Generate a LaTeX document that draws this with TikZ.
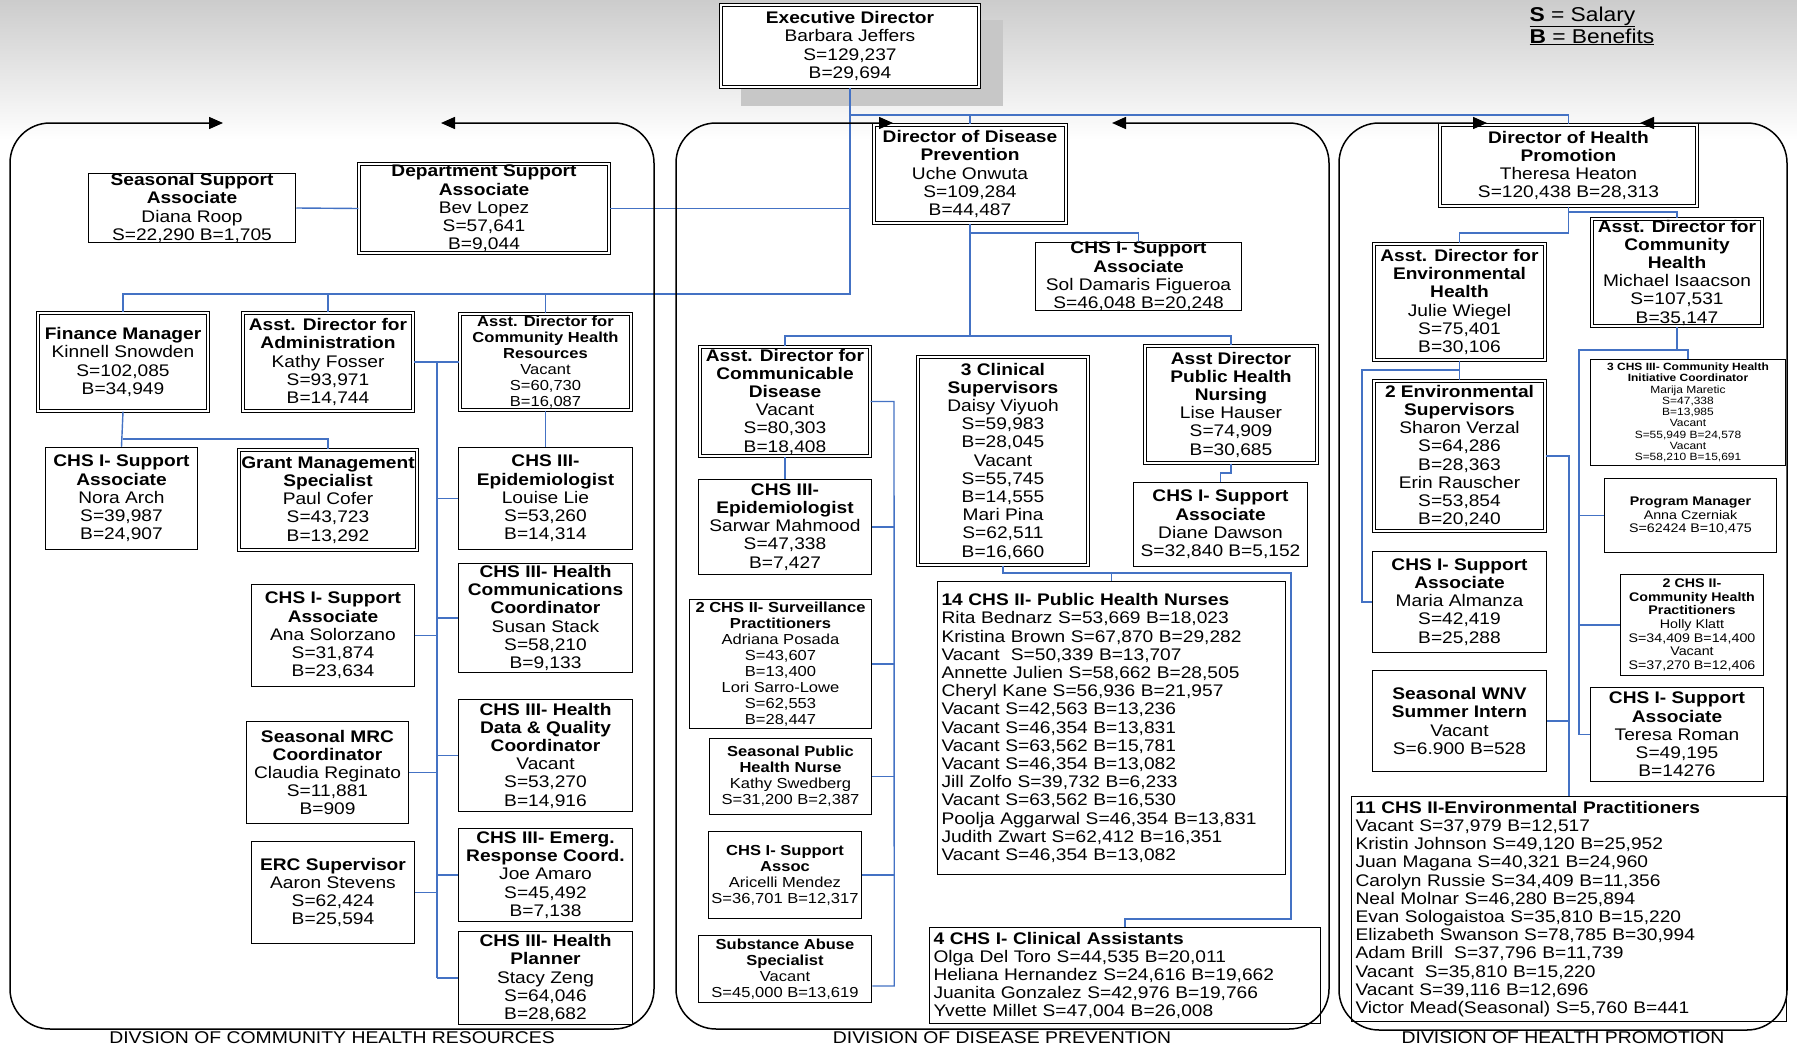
\documentclass[tikz,border=0pt]{standalone}
\usepackage{fontspec}
\setmainfont{Liberation Sans}[FakeStretch=1.14]
\usetikzlibrary{arrows.meta,calc}
\definecolor{cblue}{HTML}{4472C4}
\newcommand\fsA{\fontsize{16.8}{18.2}\selectfont}
\newcommand\fsB{\fontsize{14.5}{16}\selectfont}
\newcommand\fsC{\fontsize{12.5}{13.6}\selectfont}
\newcommand\fsD{\fontsize{10.5}{11.3}\selectfont}
\newcommand\fsE{\fontsize{17}{20}\selectfont}
\newcommand\fsL{\fontsize{20}{22}\selectfont}
\tikzset{
  wh/.style 2 args={minimum width=#1pt, minimum height=#2pt},
  sb/.style={draw, line width=1.5pt, fill=white, inner sep=0pt, align=center, font=\fsA},
  db/.style={draw, double, double distance=1.8pt, line width=1.1pt, fill=white, inner sep=0pt, align=center, font=\fsA},
  lb/.style={draw, line width=1.5pt, fill=white, inner xsep=4pt, inner ysep=0pt, align=left, font=\fsA},
  conn/.style={draw=cblue, line width=1.4pt},
  cont/.style={draw=black, line width=1.5pt, rounded corners=40pt,
    {Triangle[length=14pt,width=12pt]}-{Triangle[length=14pt,width=12pt]}},
}
\begin{document}
\begin{tikzpicture}[x=1pt,y=-1pt]
\useasboundingbox (0,0) rectangle (1797,1044);
\fill[white] (0,0) rectangle (1797,1044);
\shade[top color=black!20, bottom color=white] (0,0) rectangle (1797,140);
\fill[black!22] (741,20) rectangle (1003,106);

% ---------- boxes ----------
\node[db, wh={258}{82}] (ed) at (850,46) {\textbf{Executive Director}\\Barbara Jeffers\\S=129,237\\B=29,694};

% left division
\node[sb, wh={207}{67}] (ssa) at (192,208) {\textbf{Seasonal Support}\\\textbf{Associate}\\Diana Roop\\S=22,290 B=1,705};
\node[db, wh={250}{89}] (dsa) at (484,208.5) {\textbf{Department Support}\\\textbf{Associate}\\Bev Lopez\\S=57,641\\B=9,044};
\node[db, wh={170}{98}] (fm) at (123,362) {\textbf{Finance Manager}\\Kinnell Snowden\\S=102,085\\B=34,949};
\node[db, wh={170}{98}] (ada) at (328,362) {\textbf{Asst. Director for}\\\textbf{Administration}\\Kathy Fosser\\S=93,971\\B=14,744};
\node[db, wh={171}{96}, font=\fsB] (adchr) at (545.5,362) {\textbf{Asst. Director for}\\\textbf{Community Health}\\\textbf{Resources}\\Vacant\\S=60,730\\B=16,087};
\node[sb, wh={152}{102}] (ns) at (121.5,498.5) {\textbf{CHS I- Support}\\\textbf{Associate}\\Nora Arch\\S=39,987\\B=24,907};
\node[db, wh={178}{100}] (gms) at (328,500) {\textbf{Grant Management}\\\textbf{Specialist}\\Paul Cofer\\S=43,723\\B=13,292};
\node[sb, wh={174}{102}] (ep1) at (545.5,498.5) {\textbf{CHS III-}\\\textbf{Epidemiologist}\\Louise Lie\\S=53,260\\B=14,314};
\node[sb, wh={174}{109}] (hcc) at (545.5,618) {\textbf{CHS III- Health}\\\textbf{Communications}\\\textbf{Coordinator}\\Susan Stack\\S=58,210\\B=9,133};
\node[sb, wh={163}{102}] (as) at (333,635.5) {\textbf{CHS I- Support}\\\textbf{Associate}\\Ana Solorzano\\S=31,874\\B=23,634};
\node[sb, wh={174}{112}] (hdq) at (545.5,755.5) {\textbf{CHS III- Health}\\\textbf{Data \& Quality}\\\textbf{Coordinator}\\Vacant\\S=53,270\\B=14,916};
\node[sb, wh={162}{102}] (mrc) at (327.5,772.5) {\textbf{Seasonal MRC}\\\textbf{Coordinator}\\Claudia Reginato\\S=11,881\\B=909};
\node[sb, wh={174}{93}] (erq) at (545.5,875) {\textbf{CHS III- Emerg.}\\\textbf{Response Coord.}\\Joe Amaro\\S=45,492\\B=7,138};
\node[sb, wh={163}{102}] (erc) at (333,892.5) {\textbf{ERC Supervisor}\\Aaron Stevens\\S=62,424\\B=25,594};
\node[sb, wh={174}{93}] (hp) at (545.5,978) {\textbf{CHS III- Health}\\\textbf{Planner}\\Stacy Zeng\\S=64,046\\B=28,682};

% middle division
\node[db, wh={192}{98}] (ddp) at (970,174) {\textbf{Director of Disease}\\\textbf{Prevention}\\Uche Onwuta\\S=109,284\\B=44,487};
\node[sb, wh={206}{68}] (sol) at (1138.5,276.5) {\textbf{CHS I- Support}\\\textbf{Associate}\\Sol Damaris Figueroa\\S=46,048 B=20,248};
\node[db, wh={170}{109}] (acd) at (785,401.5) {\textbf{Asst. Director for}\\\textbf{Communicable}\\\textbf{Disease}\\Vacant\\S=80,303\\B=18,408};
\node[sb, wh={173}{95}] (ep2) at (785,527) {\textbf{CHS III-}\\\textbf{Epidemiologist}\\Sarwar Mahmood\\S=47,338\\B=7,427};
\node[sb, wh={182}{129}, font=\fsB] (surv) at (780.5,664) {\textbf{2 CHS II- Surveillance}\\\textbf{Practitioners}\\Adriana Posada\\S=43,607\\B=13,400\\Lori Sarro-Lowe\\S=62,553\\B=28,447};
\node[sb, wh={162}{76}, font=\fsB] (sphn) at (790.5,776.5) {\textbf{Seasonal Public}\\\textbf{Health Nurse}\\Kathy Swedberg\\S=31,200 B=2,387};
\node[sb, wh={153}{87}, font=\fsB] (sa2) at (785,875) {\textbf{CHS I- Support}\\\textbf{Assoc}\\Aricelli Mendez\\S=36,701 B=12,317};
\node[sb, wh={173}{67}, font=\fsB] (sub) at (785,969) {\textbf{Substance Abuse}\\\textbf{Specialist}\\Vacant\\S=45,000 B=13,619};
\node[db, wh={170}{208}] (cs) at (1003,461) {\textbf{3 Clinical}\\\textbf{Supervisors}\\Daisy Viyuoh\\S=59,983\\B=28,045\\Vacant\\S=55,745\\B=14,555\\Mari Pina\\S=62,511\\B=16,660};
\node[db, wh={172}{117}] (aphn) at (1231,404.5) {\textbf{Asst Director}\\\textbf{Public Health}\\\textbf{Nursing}\\Lise Hauser\\S=74,909\\B=30,685};
\node[sb, wh={174}{84}] (dd) at (1220.5,524.5) {\textbf{CHS I- Support}\\\textbf{Associate}\\Diane Dawson\\S=32,840 B=5,152};
\node[lb, wh={348}{293}, text width=340pt] (nurses) at (1111.5,728) {\textbf{14 CHS II- Public Health Nurses}\\Rita Bednarz S=53,669 B=18,023\\Kristina Brown S=67,870 B=29,282\\Vacant\ \ S=50,339 B=13,707\\Annette Julien S=58,662 B=28,505\\Cheryl Kane S=56,936 B=21,957\\Vacant S=42,563 B=13,236\\Vacant S=46,354 B=13,831\\Vacant S=63,562 B=15,781\\Vacant S=46,354 B=13,082\\Jill Zolfo S=39,732 B=6,233\\Vacant S=63,562 B=16,530\\Poolja Aggarwal S=46,354 B=13,831\\Judith Zwart S=62,412 B=16,351\\Vacant S=46,354 B=13,082};
\node[lb, wh={391}{96}, text width=383pt] (ca) at (1125,975.5) {\textbf{4 CHS I- Clinical Assistants}\\Olga Del Toro S=44,535 B=20,011\\Heliana Hernandez S=24,616 B=19,662\\Juanita Gonzalez S=42,976 B=19,766\\Yvette Millet S=47,004 B=26,008};

% right division
\node[db, wh={257}{81}] (dhp) at (1568.5,165.5) {\textbf{Director of Health}\\\textbf{Promotion}\\Theresa Heaton\\S=120,438 B=28,313};
\node[db, wh={171}{116}] (adeh) at (1459.5,302) {\textbf{Asst. Director for}\\\textbf{Environmental}\\\textbf{Health}\\Julie Wiegel\\S=75,401\\B=30,106};
\node[db, wh={170}{107}] (adch) at (1677,272.5) {\textbf{Asst. Director for}\\\textbf{Community}\\\textbf{Health}\\Michael Isaacson\\S=107,531\\B=35,147};
\node[db, wh={171}{150}] (es) at (1459.5,456) {\textbf{2 Environmental}\\\textbf{Supervisors}\\Sharon Verzal\\S=64,286\\B=28,363\\Erin Rauscher\\S=53,854\\B=20,240};
\node[sb, wh={174}{101}] (ma) at (1459.5,602) {\textbf{CHS I- Support}\\\textbf{Associate}\\Maria Almanza\\S=42,419\\B=25,288};
\node[sb, wh={174}{101}] (wnv) at (1459.5,721) {\textbf{Seasonal WNV}\\\textbf{Summer Intern}\\Vacant\\S=6.900 B=528};
\node[sb, wh={195}{106}, font=\fsD] (chi) at (1688,412.5) {\textbf{3 CHS III- Community Health}\\\textbf{Initiative Coordinator}\\Marija Maretic\\S=47,338\\B=13,985\\Vacant\\S=55,949 B=24,578\\Vacant\\S=58,210 B=15,691};
\node[sb, wh={172}{74}, font=\fsC] (pm) at (1690.5,515.5) {\textbf{Program Manager}\\Anna Czerniak\\S=62424 B=10,475};
\node[sb, wh={143}{101}, font=\fsC] (chp) at (1692,625) {\textbf{2 CHS II-}\\\textbf{Community Health}\\\textbf{Practitioners}\\Holly Klatt\\S=34,409 B=14,400\\Vacant\\S=37,270 B=12,406};
\node[sb, wh={173}{94}] (tr) at (1677,734.5) {\textbf{CHS I- Support}\\\textbf{Associate}\\Teresa Roman\\S=49,195\\B=14276};
\node[lb, wh={435}{225}, text width=427pt] (ep11) at (1569,909) {\textbf{11 CHS II-Environmental Practitioners}\\Vacant S=37,979 B=12,517\\Kristin Johnson S=49,120 B=25,952\\Juan Magana S=40,321 B=24,960\\Carolyn Russie S=34,409 B=11,356\\Neal Molnar S=46,280 B=25,894\\Evan Sologaistoa S=35,810 B=15,220\\Elizabeth Swanson S=78,785 B=30,994\\Adam Brill\ \ S=37,796 B=11,739\\Vacant\ \ S=35,810 B=15,220\\Vacant S=39,116 B=12,696\\Victor Mead(Seasonal) S=5,760 B=441};

% ---------- connectors ----------
\draw[conn] (ed.south) -- (ed.south |- 0,294) -| (fm.north);
\draw[conn] (ed.south |- 0,115) -| (dhp.north);
\draw[conn] (ed.south |- 0,208.5) -- (dsa.east);
\draw[conn] (ddp.north |- 0,115) -- (ddp.north);
\draw[conn] (ssa.east) -- (dsa.west);
\draw[conn] (ada.north) -- (ada.north |- 0,294);
\draw[conn] (adchr.north) -- (adchr.north |- 0,294);
\draw[conn] (fm.south) -- (ns.north);
\draw[conn] (fm.south |- 0,439) -| (gms.north);
\draw[conn] (ada.east) -- (adchr.west);
\coordinate (lsp) at (437,362);
\draw[conn] (lsp) -- (hp.west -| lsp);
\foreach \n in {ep1,hcc,hdq,erq,hp} \draw[conn] (\n.west) -- (\n.west -| lsp);
\foreach \n in {as,mrc,erc} \draw[conn] (\n.east) -- (\n.east -| lsp);
\draw[conn] (adchr.south) -- (ep1.north);

\draw[conn] (ddp.south) -- (ddp.south |- 0,233) -| (sol.north);
\draw[conn] (ddp.south |- 0,233) -- (ddp.south |- 0,336);
\draw[conn] (acd.north) -- (acd.north |- 0,336) -| (aphn.north);
\draw[conn] (acd.south) -- (ep2.north);
\coordinate (msp) at (894,401.5);
\draw[conn] (acd.east) -- (msp) -- ($(sub.east)+(22,17)$) -- ($(sub.east)+(0,17)$);
\foreach \n in {ep2,surv,sphn,sa2} \draw[conn] (\n.east) -- (\n.east -| msp);
\draw[conn] (cs.south) -- (cs.south |- 0,573) -| (nurses.north);
\draw[conn] (nurses.north |- 0,573) -- (1291,573) -- (1291,919) -| (ca.north);
\draw[conn] (aphn.south) -- (aphn.south |- 0,473) -| (dd.north);

\draw[conn] (dhp.south) -- (dhp.south |- 0,233) -| (adeh.north);
\draw[conn] (dhp.south |- 0,212) -| (adch.north);
\draw[conn] (adeh.south) -- (es.north);
\draw[conn] (adeh.south |- 0,370) -- (1362,370) |- (ma.west);
\draw[conn] (es.east) -| (ep11.north);
\draw[conn] (wnv.east) -- (wnv.east -| ep11.north);
\draw[conn] (adch.south) -- (adch.south |- 0,350) -| (chi.north);
\draw[conn] (adch.south |- 0,350) -- (1579,350) |- (tr.west);
\draw[conn] (pm.west) -- (pm.west -| 1579,0);
\draw[conn] (chp.west) -- (chp.west -| 1579,0);

% ---------- division frames ----------
\draw[cont] (223,123) -| (10,1029) -| (654,123) -- (441,123);
\draw[cont] (893,123) -| (676,1029) -| (1329,123) -- (1112,123);
\draw[cont] (1487,123) -| (1339,1030) -| (1787,123) -- (1640,123);

% ---------- legend and labels ----------
\node[anchor=base west, font=\fsL] (lg1) at (1526,21) {\underline{\textbf{S} = Salary}};
\node[anchor=base west, font=\fsL] (lg2) at (1526,43) {\underline{\textbf{B} = Benefits}};
\node[anchor=base, font=\fsE, inner sep=0pt] (dl1) at (332,1043) {DIVSION OF COMMUNITY HEALTH RESOURCES};
\node[anchor=base, font=\fsE, inner sep=0pt] (dl2) at (1002,1043) {DIVISION OF DISEASE PREVENTION};
\node[anchor=base, font=\fsE, inner sep=0pt] (dl3) at (1563,1043) {DIVISION OF HEALTH PROMOTION};
\end{tikzpicture}
\end{document}
